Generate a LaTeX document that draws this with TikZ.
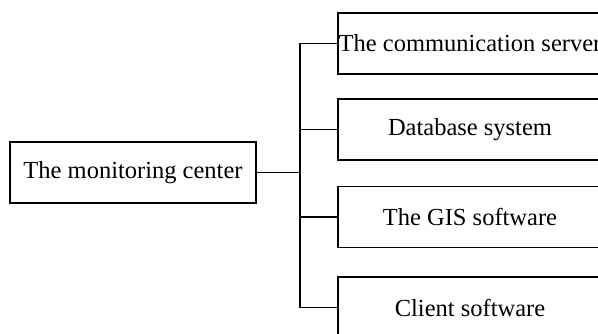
\documentclass[tikz,border=0pt]{standalone}
\usepackage{fontspec}
\setmainfont{Liberation Serif}
\tikzset{
  unitbox/.style={draw, line width=1.5pt, rectangle, inner sep=0pt,
    minimum height=61pt, font=\fontsize{24.5}{29}\selectfont},
  centerbox/.style={unitbox, minimum width=246pt},
  partbox/.style={unitbox, minimum width=264pt}
}
\begin{document}
\begin{tikzpicture}[x=1pt, y=-1pt, line width=1.5pt]
  \useasboundingbox (0,0) rectangle (598,333);
  \clip (0,0) rectangle (598,333);
  \node[centerbox] (center) at (133,172.5) {The monitoring center};
  \node[partbox] (server) at (470,43.5) {The communication server};
  \node[partbox] (database) at (470,129.5) {Database system};
  \node[partbox] (gis) at (470,217) {The GIS software};
  \node[partbox] (client) at (470,307.5) {Client software};
  \coordinate (trunk) at (300,172.5);
  \begin{scope}[-]
    \draw (center) -- (trunk);
    \foreach \part in {server,database,gis,client}
      \draw (trunk) |- (\part.west);
  \end{scope}
\end{tikzpicture}
\end{document}
